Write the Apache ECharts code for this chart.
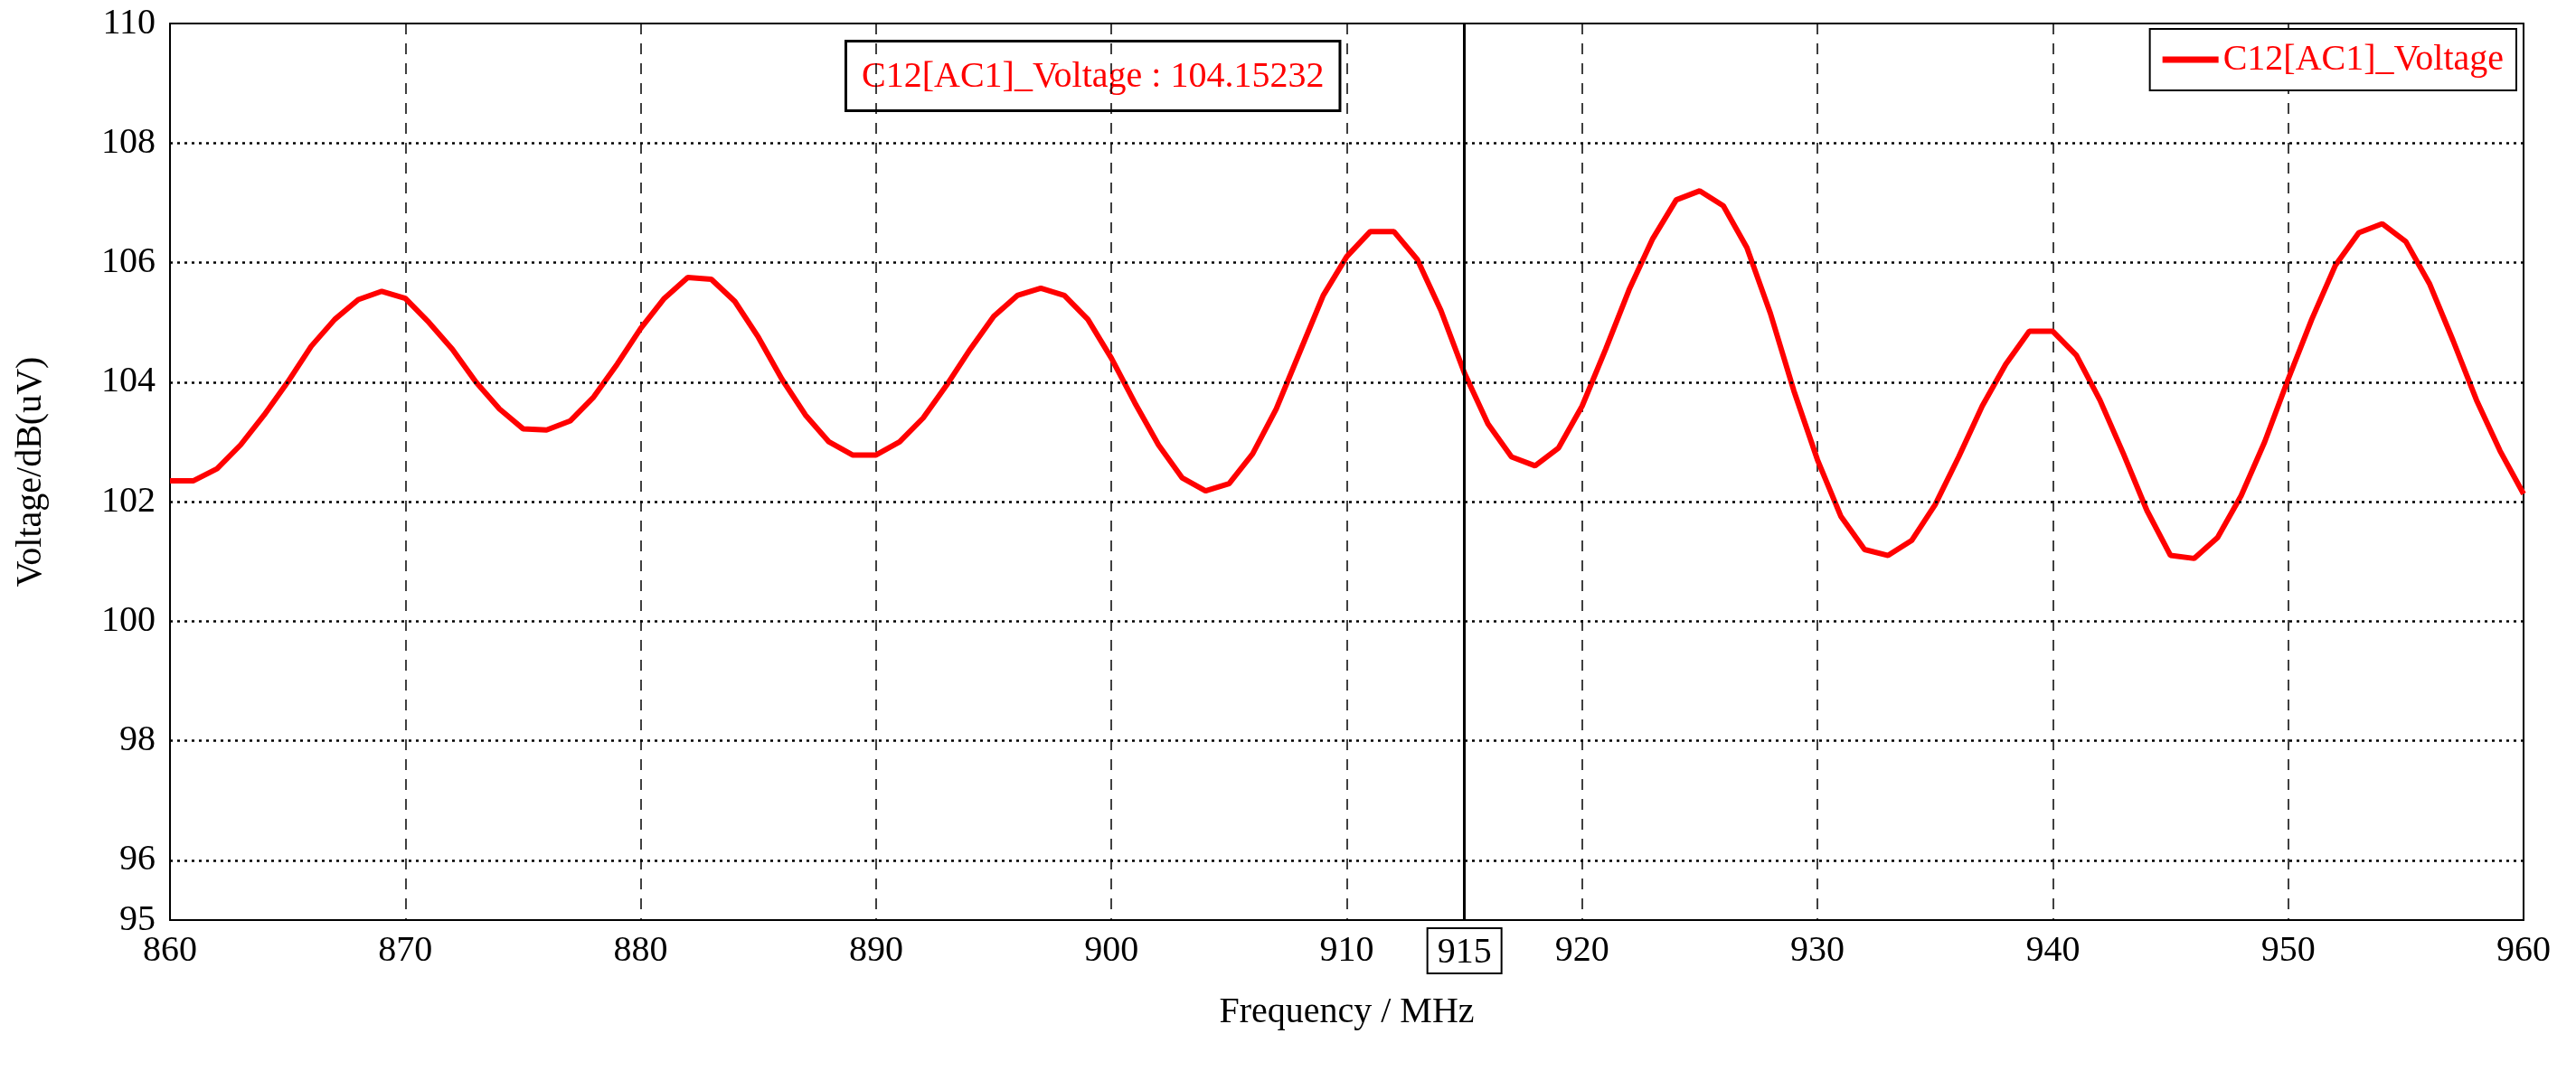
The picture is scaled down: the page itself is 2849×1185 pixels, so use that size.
<!DOCTYPE html>
<html>
<head>
<meta charset="utf-8">
<script src="https://cdn.jsdelivr.net/npm/echarts@6/dist/echarts.min.js"></script>
<style>html,body{margin:0;padding:0;background:#fff}#main{width:2849px;height:1185px}</style>
</head>
<body>
<div id="main"></div>
<script>
// frequency in MHz, 1 MHz steps
var freqStart = 860;
var voltage = [
  102.35, 102.35, 102.55, 102.95, 103.45, 104.0, 104.6, 105.05, 105.38, 105.52,
  105.4, 105.0, 104.55, 104.0, 103.55, 103.22, 103.2, 103.35, 103.75, 104.3,
  104.9, 105.4, 105.75, 105.72, 105.35, 104.75, 104.05, 103.45, 103.0, 102.78,
  102.78, 103.0, 103.4, 103.95, 104.55, 105.1, 105.45, 105.57, 105.45, 105.05,
  104.4, 103.65, 102.95, 102.4, 102.18, 102.3, 102.8, 103.55, 104.5, 105.45,
  106.1, 106.52, 106.52, 106.05, 105.2, 104.15232, 103.3, 102.75, 102.6, 102.9,
  103.6, 104.55, 105.55, 106.4, 107.05, 107.2, 106.95, 106.25, 105.15, 103.85,
  102.7, 101.75, 101.2, 101.1, 101.35, 101.95, 102.75, 103.6, 104.3, 104.85,
  104.85, 104.45, 103.7, 102.8, 101.85, 101.1, 101.05, 101.4, 102.1, 103.0,
  104.05, 105.05, 105.95, 106.5, 106.65, 106.35, 105.65, 104.7, 103.7, 102.85,
  102.13
];
var yGridValues = [96, 98, 100, 102, 104, 106, 108];
var markerFreq = 915;
var seriesName = 'C12[AC1]_Voltage';

var points = voltage.map(function (v, i) { return [freqStart + i, v]; });
var serif = '"Liberation Serif", "DejaVu Serif", serif';

var chart = echarts.init(document.getElementById('main'));
chart.setOption({
  animation: false,
  backgroundColor: '#fff',
  textStyle: { fontFamily: serif },
  grid: { left: 188, right: 58, top: 26, bottom: 167 },
  legend: {
    data: [{ name: seriesName, icon: 'rect' }],
    right: 66, top: 32,
    backgroundColor: '#fff', borderColor: '#000', borderWidth: 2,
    padding: [14, 14],
    itemWidth: 62, itemHeight: 7, itemGap: 10,
    textStyle: { color: '#ff0000', fontSize: 40, fontFamily: serif }
  },
  xAxis: [{
    type: 'value', min: 860, max: 960, interval: 10,
    name: 'Frequency / MHz', nameLocation: 'middle', nameGap: 82,
    nameTextStyle: { fontSize: 40, color: '#000', fontFamily: serif },
    axisLine: { lineStyle: { color: '#000', width: 2 } },
    axisTick: { show: false },
    axisLabel: { fontSize: 40, color: '#000', margin: 14, fontFamily: serif },
    splitLine: { lineStyle: { color: '#000', type: [12, 10], width: 1.5 } }
  }, {
    type: 'value', position: 'top', min: 860, max: 960,
    axisLine: { lineStyle: { color: '#000', width: 2 } },
    axisTick: { show: false }, axisLabel: { show: false }, splitLine: { show: false }
  }],
  yAxis: [{
    type: 'value', min: 95, max: 110, interval: 1,
    name: 'Voltage/dB(uV)', nameLocation: 'middle', nameGap: 134,
    nameTextStyle: { fontSize: 40, color: '#000', fontFamily: serif },
    axisLine: { show: true, lineStyle: { color: '#000', width: 2 } },
    axisTick: { show: false },
    axisLabel: {
      fontSize: 40, color: '#000', margin: 16, fontFamily: serif,
      formatter: function (v) { return (v === 95 || v % 2 === 0) ? String(v) : ''; }
    },
    splitLine: { show: false }
  }, {
    type: 'value', position: 'right', min: 95, max: 110,
    axisLine: { show: true, lineStyle: { color: '#000', width: 2 } },
    axisTick: { show: false }, axisLabel: { show: false }, splitLine: { show: false }
  }],
  series: [{
    name: 'hgrid', type: 'line', data: [], silent: true,
    markLine: {
      silent: true, symbol: 'none', label: { show: false },
      lineStyle: { color: '#000', type: [3, 5], width: 2.5 },
      data: yGridValues.map(function (v) { return { yAxis: v }; })
    }
  }, {
    name: seriesName, type: 'line', data: points,
    showSymbol: false, itemStyle: { color: '#ff0000' },
    lineStyle: { color: '#ff0000', width: 6 },
    markLine: {
      silent: true, symbol: 'none',
      lineStyle: { color: '#000', type: 'solid', width: 3 },
      label: {
        show: true, position: 'start', distance: 10,
        formatter: String(markerFreq), fontSize: 40, color: '#000', fontFamily: serif,
        borderColor: '#000', borderWidth: 2, padding: [6, 10, 2, 10], backgroundColor: '#fff'
      },
      data: [{ xAxis: markerFreq }]
    }
  }],
  graphic: [{
    type: 'text', left: 934, top: 44,
    style: {
      text: seriesName + ' : ' + voltage[markerFreq - freqStart].toFixed(5),
      fill: '#ff0000', font: '40px ' + serif,
      backgroundColor: '#fff', borderColor: '#000', borderWidth: 3,
      padding: [18, 16, 16, 16]
    }
  }]
});
</script>
</body>
</html>
